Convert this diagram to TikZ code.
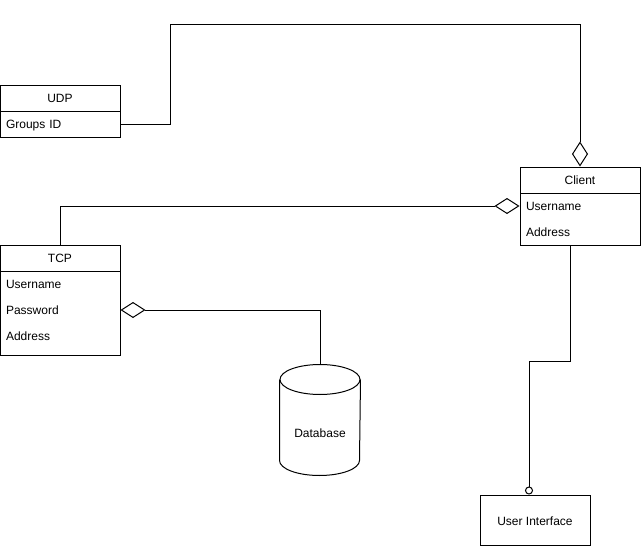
\documentclass[tikz,border=0pt]{standalone}
\usepackage{fontspec}
\setmainfont{Liberation Sans}
\usetikzlibrary{arrows.meta}
\tikzset{agg/.tip={Diamond[open,length=25pt,width=16pt]},
  ball/.tip={Circle[open,length=8pt]}}
\begin{document}
\begin{tikzpicture}[x=1pt,y=-1pt, font=\fontsize{12}{14}\selectfont, line width=1pt,
  every node/.append style={text height=9pt, text depth=1pt},
  hdr/.style={draw, minimum width=120pt, minimum height=26pt, inner sep=0pt},
  fld/.style={minimum width=120pt, minimum height=26pt, inner xsep=6pt, inner ysep=0pt, text width=108pt, align=left},
  body/.style={draw, minimum width=120pt, inner sep=0pt}]
\fill[white] (0,0) rectangle (641,546);
\useasboundingbox (0,0) rectangle (641,546);
% UDP
\node[hdr] (udp) at (60,98) {UDP};
\node[fld, draw] (udpg) at (60,124) {Groups ID};
% Client
\node[hdr] (client) at (580,180) {Client};
\node[body, minimum height=52pt] (clientb) at (580,219) {};
\node[fld] (cu) at (580,206) {Username};
\node[fld] (ca) at (580,232) {Address};
% TCP
\node[hdr] (tcp) at (60,258) {TCP};
\node[body, minimum height=84pt] (tcpb) at (60,313) {};
\node[fld] (tcpu) at (60,284) {Username};
\node[fld] (tcppw) at (60,310) {Password};
\node[fld] (tcpa) at (60,336) {Address};
% Database
\node[minimum width=80pt, minimum height=110pt, inner sep=0pt] (db) at (320,420) {};
\draw ([yshift=-15pt]db.north west) -- ([yshift=15pt]db.south west)
  arc[start angle=180, end angle=360, x radius=40pt, y radius=15pt]
  -- ([yshift=-15pt]db.north east);
\draw ([yshift=-15pt]db.north) ellipse [x radius=40pt, y radius=15pt];
\node (dblabel) at (320,433) {Database};
% User Interface
\node[draw, minimum width=110pt, minimum height=50pt] (ui) at (535,520) {};
\node (uilabel) at (535,521.5) {User Interface};
% connectors
\draw[-agg] (udpg.east) -- ++(50,0) |- ([yshift=142pt]client.north) -- (client.north);
\draw[-agg] (tcp.north) |- (cu.west);
\draw[agg-] (tcppw.east) -| (db.north);
\draw[-ball] ([xshift=-10pt]clientb.south) -- ++(0,116) -| ([xshift=-6pt]ui.north);
\end{tikzpicture}
\end{document}
